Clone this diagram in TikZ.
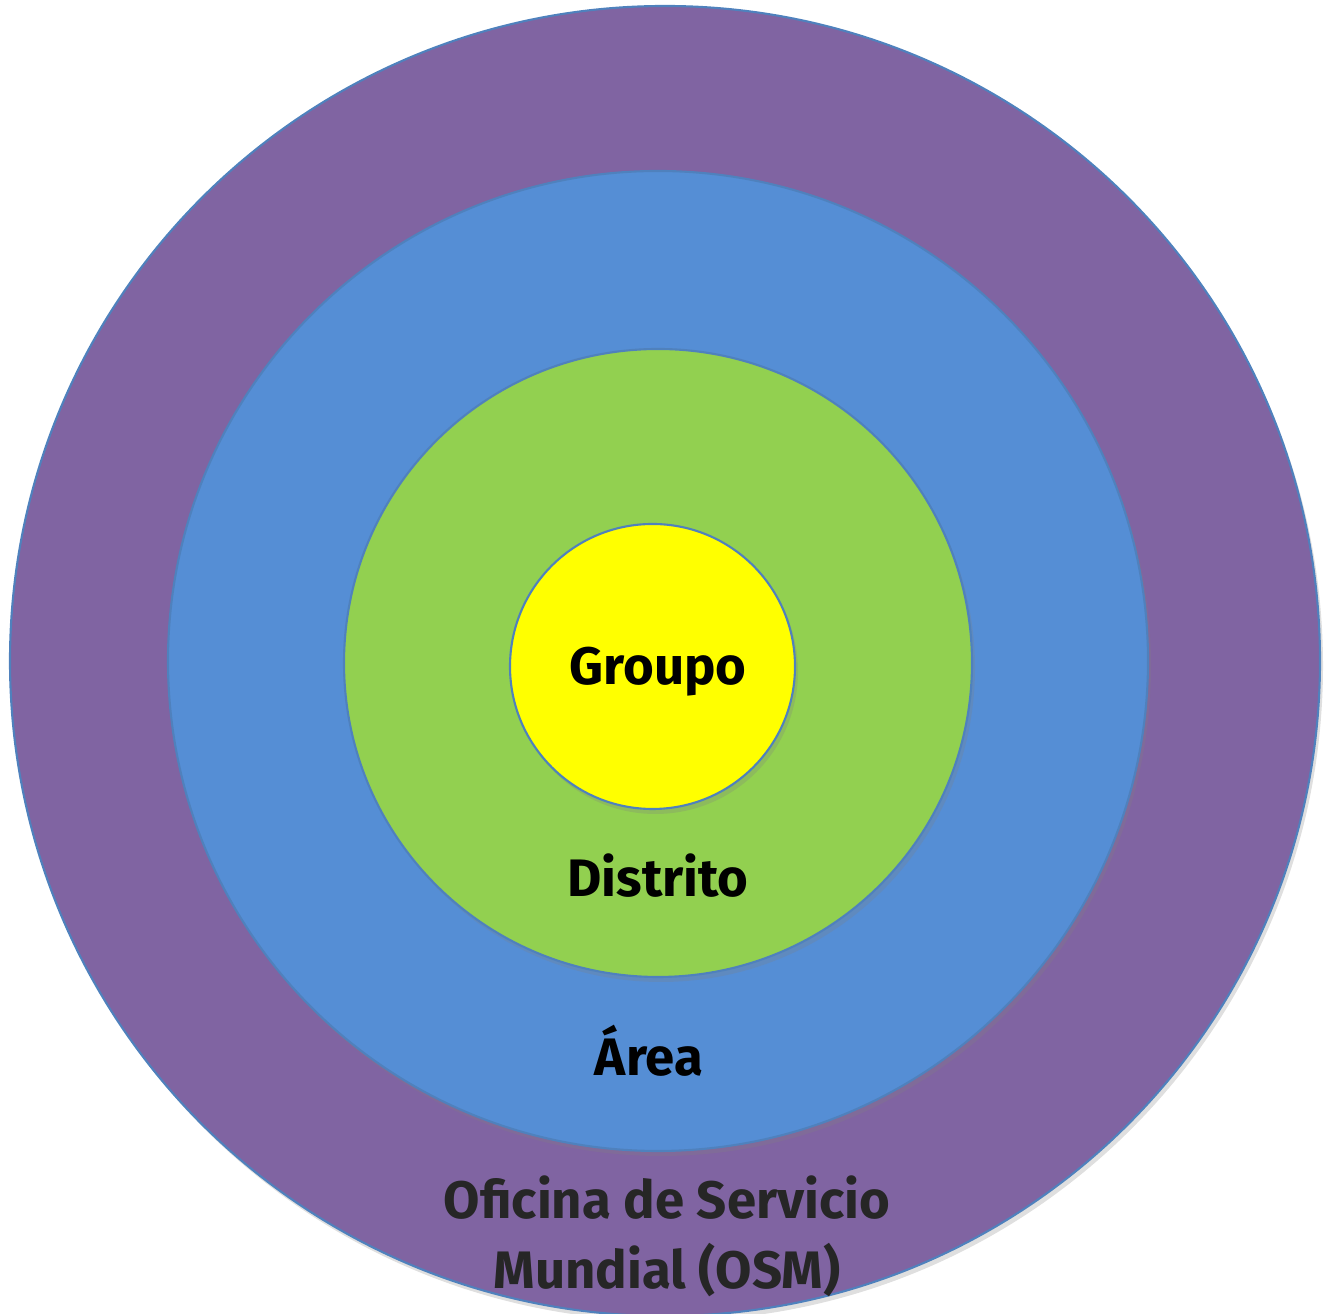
\documentclass[tikz,border=0pt]{standalone}
\usepackage{fontspec}
\setmainfont{Fira Sans}
\usetikzlibrary{shadows}

\definecolor{osmpurple}{HTML}{8064A2}
\definecolor{areablue}{HTML}{558ED5}
\definecolor{distgreen}{HTML}{92D050}
\definecolor{grupoyellow}{HTML}{FFFF00}
\definecolor{ringline}{HTML}{4F81BD}
\definecolor{osmtext}{HTML}{262626}

\tikzset{
    ring/.style = {circle, draw = ringline, line width = 0.6pt, inner sep = 0pt,
                   drop shadow = {opacity = 0.25, shadow xshift = 0.03cm, shadow yshift = -0.05cm}},
    lbl/.style  = {font = \bfseries\fontsize{15}{18}\selectfont, align = center}
}

\begin{document}
\begin{tikzpicture}
    \useasboundingbox (0, 0) rectangle (13.25, 13.14);

    \node[ring, fill = osmpurple, minimum size = 13.1cm] (osm) at (6.65, 6.53) {};
    \node[ring, fill = areablue, minimum size = 9.8cm] (area) at (6.58, 6.53) {};
    \node[ring, fill = distgreen, minimum size = 6.28cm] (distrito) at (6.58, 6.51) {};
    \node[ring, fill = grupoyellow, minimum size = 2.85cm] (grupo) at (6.525, 6.475) {};

    \node[lbl] (grupotxt) at (6.58, 6.42) {Groupo};
    \node[lbl] (distritotxt) at (6.58, 4.38) {Distrito};
    \node[lbl] (areatxt) at (6.49, 2.63) {Área};
    \node[lbl, text = osmtext] (osmtxt) at (6.67, 0.78)
        {Oficina de Servicio\\[2pt]Mundial (OSM)};
\end{tikzpicture}
\end{document}
